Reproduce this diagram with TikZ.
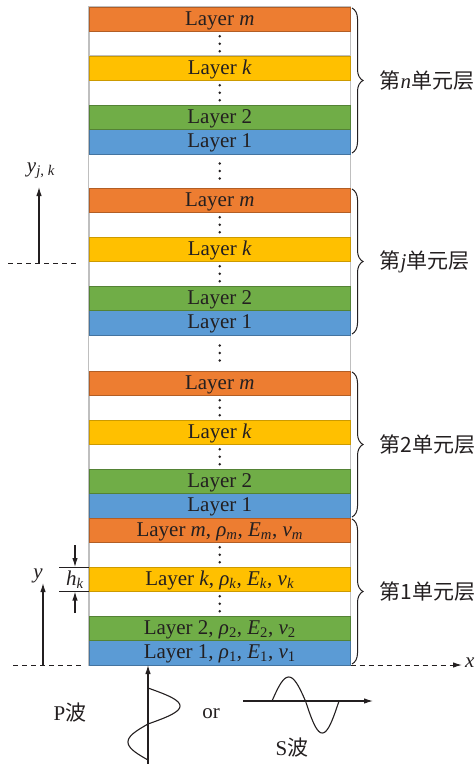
\documentclass[tikz,border=0pt]{standalone}
\usepackage{fontspec}
\setmainfont{Liberation Serif}
\newfontfamily\cjk{Noto Sans CJK SC}
\usetikzlibrary{arrows.meta,decorations.pathreplacing}
\definecolor{corange}{HTML}{ED7D31}
\definecolor{cyellow}{HTML}{FFC000}
\definecolor{cgreen}{HTML}{70AD47}
\definecolor{cblue}{HTML}{5B9BD5}
\definecolor{cgrid}{HTML}{BFBFBF}
\definecolor{ink}{HTML}{231F20}
\newcommand\sub[1]{\textsubscript{#1}}
\newcommand\vdotsat[1]{\foreach \d in {-7.5,0,7.5}{\fill[ink] ([yshift=\d bp]#1.center) circle[radius=1.3bp];}}
% prefix, bottom, m label, k label, 2 label, 1 label, unit label
\newcommand\unitcells[7]{%
 \node[gapcell,anchor=south west] (#1c) at (89,{#2-49}) {};
 \node[gapcell,anchor=south west] (#1e) at (89,{#2-98}) {};
 \node[cell,fill=cblue,draw=cblue!75!black,anchor=south west] (#1a) at (89,#2) {#6};
 \node[cell,fill=cgreen,draw=cgreen!75!black,anchor=south west] (#1b) at (89,{#2-24.5}) {#5};
 \node[cell,fill=cyellow,draw=cyellow!80!black,anchor=south west] (#1d) at (89,{#2-73.5}) {#4};
 \node[cell,fill=corange,draw=corange!75!black,anchor=south west] (#1f) at (89,{#2-122.5}) {#3};
 \vdotsat{#1c}\vdotsat{#1e}
 \draw[unitbrace] ([xshift=1.5bp,yshift=-1bp]#1f.north east) -- ([xshift=1.5bp,yshift=1bp]#1a.south east)
   node[unitlabel] (#1lab) {#7};
}
\begin{document}
\begin{tikzpicture}[x=1bp,y=-1bp,
  font=\fontsize{21bp}{24bp}\selectfont, text=ink,
  cell/.style={minimum width=261.5bp,minimum height=24.5bp,inner sep=0pt,outer sep=0pt,
     line width=0.9bp,text height=15.5bp,text depth=3.5bp},
  gapcell/.style={minimum width=261.5bp,minimum height=24.5bp,inner sep=0pt,outer sep=0pt,
     draw=cgrid,fill=white,line width=1bp},
  unitbrace/.style={draw=ink,line width=1bp,decorate,decoration={brace,amplitude=11bp}},
  unitlabel/.style={midway,anchor=west,xshift=27bp,inner sep=0pt},
  axisarrow/.style={draw=ink,line width=1.1bp,-{Latex[length=9bp,width=5.5bp]}},
  dashline/.style={draw=ink,line width=1bp,dash pattern=on 5bp off 4bp},
  wave/.style={draw=ink,line width=1.1bp},
  lbl/.style={inner sep=0pt}]
\useasboundingbox (0,0) rectangle (475,764);
% column background
\draw[draw=cgrid,fill=white,line width=1.2bp] (89,7) rectangle (350.5,665);
\node[gapcell,minimum height=34bp] (gapA) at (219.75,171) {};
\node[gapcell,minimum height=36bp] (gapB) at (219.75,353) {};
\vdotsat{gapA}\vdotsat{gapB}
\unitcells{nn}{154}{Layer \textit{m}}{Layer \textit{k}}{Layer 2}{Layer 1}{{\cjk 第}\textit{n}{\cjk 单元层}}
\unitcells{jj}{335}{Layer \textit{m}}{Layer \textit{k}}{Layer 2}{Layer 1}{{\cjk 第}\textit{j}{\cjk 单元层}}
\unitcells{two}{518}{Layer \textit{m}}{Layer \textit{k}}{Layer 2}{Layer 1}{{\cjk 第2单元层}}
\unitcells{one}{665}%
 {Layer \textit{m}, \textit{ρ}\sub{\textit{m}}, \textit{E}\sub{\textit{m}}, \textit{v}\sub{\textit{m}}}%
 {Layer \textit{k}, \textit{ρ}\sub{\textit{k}}, \textit{E}\sub{\textit{k}}, \textit{v}\sub{\textit{k}}}%
 {Layer 2, \textit{ρ}\sub{2}, \textit{E}\sub{2}, \textit{v}\sub{2}}%
 {Layer 1, \textit{ρ}\sub{1}, \textit{E}\sub{1}, \textit{v}\sub{1}}%
 {{\cjk 第1单元层}}
% local coordinate y_{j,k}
\coordinate (dl1) at (8,263); \coordinate (dl2) at (77,263);
\draw[dashline] (dl1) -- (dl2);
\coordinate (yjkb) at (39,263); \coordinate (yjkt) at (39,187);
\draw[axisarrow] (yjkb) -- (yjkt);
\node[lbl] (yjk) at (41,171) {\textit{y}\sub{\textit{j}, \textit{k}}};
% global axes
\coordinate (xl1) at (13,665); \coordinate (xl2) at (82,665);
\draw[dashline] (xl1) -- (xl2);
\coordinate (xend) at (462,665);
\draw[dashline] (onea.south east) -- (455,665);
\draw[axisarrow] (454,665) -- (xend);
\node[lbl,anchor=west] (xlab) at (465,663) {\textit{x}};
\coordinate (yb) at (43,665); \coordinate (yt) at (43,583);
\draw[axisarrow] (yb) -- (yt);
\node[lbl] (ylab) at (38,576) {\textit{y}};
% thickness h_k
\draw[line width=1bp,draw=ink] (oned.north west) -- ++(-30,0) coordinate (hk1);
\draw[line width=1bp,draw=ink] (oned.south west) -- ++(-30,0) coordinate (hk2);
\coordinate (hka) at (75,545); \coordinate (hkb) at (75,613);
\draw[axisarrow] (hka) -- (hka |- oned.north);
\draw[axisarrow] (hkb) -- (hkb |- oned.south);
\node[lbl] (hk) at (75,580) {\textit{h}\sub{\textit{k}}};
% P wave
\coordinate (pbot) at (148,764);
\draw[axisarrow] (pbot) -- (pbot |- onea.south);
\draw[wave] plot[domain=0:360,samples=73,variable=\t] ({148+(\t<180?32:20)*sin(\t)},{688+\t/5});
\node[lbl] (plab) at (70,713) {P{\cjk 波}};
\node[lbl] (orlab) at (211,714) {or};
% S wave
\coordinate (s1) at (243,701); \coordinate (s2) at (373,701);
\draw[axisarrow] (s1) -- (s2);
\draw[wave] plot[domain=0:360,samples=73,variable=\t] ({272+\t/360*67},{701-(\t<180?24:32)*sin(\t)});
\node[lbl] (slab) at (292,748) {S{\cjk 波}};
\end{tikzpicture}
\end{document}
